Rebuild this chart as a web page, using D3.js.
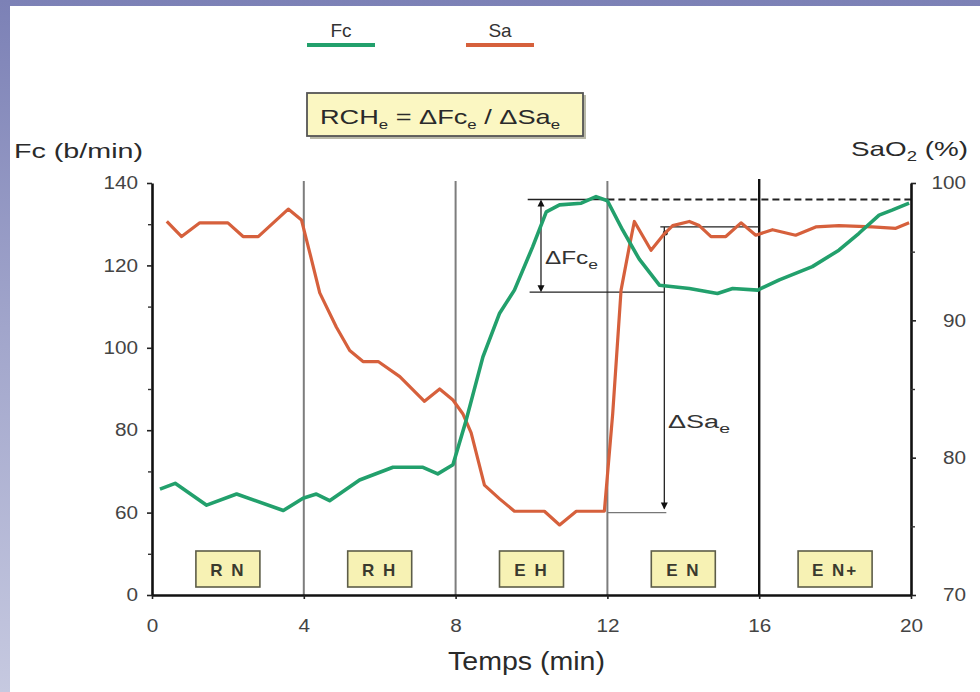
<!DOCTYPE html>
<html><head><meta charset="utf-8">
<script src="https://cdn.jsdelivr.net/npm/d3@7/dist/d3.min.js"></script>
<style>
html,body{margin:0;padding:0;}
body{width:980px;height:692px;overflow:hidden;background:linear-gradient(180deg,#7c81b6 0%,#a3a7cc 50%,#c6c9e0 100%);}
svg{display:block;font-family:"Liberation Sans",Arial,sans-serif;}
</style></head><body>
<svg id="c" width="980" height="692"></svg>
<script>
// ---------- data ----------
const timeTicks = [0, 4, 8, 12, 16, 20];
const phaseBounds = [4, 8, 12, 16];
const phaseLabels = ["R N", "R H", "E H", "E N", "E N+"];
const phaseMid = [2, 6, 10, 14, 18];
const fcTicks = [40, 60, 80, 100, 120, 140];
const fcTickLabels = ["0", "60", "80", "100", "120", "140"];
const fcMinorTicks = [50, 70, 90, 110, 130];
const saTicks = [70, 80, 90, 100];
const saMinorTicks = [75, 85, 95];

const fcTime = [0.21,0.61,1.44,2.23,3.46,3.98,4.33,4.68,5.47,6.35,7.14,7.53,7.93,8.28,8.72,9.16,9.55,10.03,10.39,10.74,11.31,11.70,12.00,12.40,12.84,13.37,14.16,14.90,15.30,15.96,16.53,17.40,18.10,18.63,19.16,19.50,19.95];
const fcValues = [65.7,67.1,61.8,64.5,60.5,63.5,64.5,62.9,67.9,71.0,71.0,69.4,71.6,82.5,97.8,108.4,114.0,124.5,133.0,134.7,135.1,136.7,135.7,128.6,121.5,115.2,114.4,113.2,114.4,114.0,116.5,119.7,123.7,127.8,132.2,133.4,135.1];

const saTime = [0.39,0.78,1.26,2.00,2.40,2.80,3.59,3.94,4.16,4.42,4.86,5.21,5.56,5.96,6.53,7.18,7.58,7.93,8.19,8.41,8.76,9.16,9.55,10.34,10.74,11.18,11.92,12.14,12.36,12.58,12.71,13.15,13.50,13.72,14.16,14.42,14.73,15.12,15.52,15.91,16.35,16.96,17.49,18.10,18.98,19.60,19.95];
const saValues = [97.2,96.1,97.1,97.1,96.1,96.1,98.1,97.3,94.9,92.0,89.5,87.8,87.0,87.0,85.9,84.1,85.0,84.2,83.2,81.8,78.0,77.0,76.1,76.1,75.1,76.1,76.1,83.2,92.2,95.4,97.2,95.1,96.3,96.9,97.2,96.9,96.1,96.1,97.1,96.2,96.6,96.2,96.8,96.9,96.8,96.7,97.1];

// annotation anchors (data units)
const fcPeakLevel = 136;
const fcPlateauLevel = 113.5;
const dFcTime = 10.25;
const saTopLevel = 96.8;
const saBottomLevel = 76.0;
const dSaTime = 13.5;

// ---------- setup ----------
const svg = d3.select("#c");
const green = "#22a06c", red = "#d6603c";

svg.append("rect").attr("x",10).attr("y",6).attr("width",970).attr("height",686).attr("fill","#fff");

const x = d3.scaleLinear().domain([0,20]).range([152,911]);
const yFc = d3.scaleLinear().domain([40,140]).range([595,183]);
const ySa = d3.scaleLinear().domain([70,100]).range([595,183]);

function stretch(sel, f){ sel.each(function(){ const L=this.getComputedTextLength(); d3.select(this).attr("textLength",L*f).attr("lengthAdjust","spacingAndGlyphs"); }); }
function fitTo(sel, w){ sel.attr("textLength",w).attr("lengthAdjust","spacingAndGlyphs"); }

// phase lines
svg.append("g").selectAll("line").data(phaseBounds).join("line")
  .attr("x1",d=>x(d)).attr("x2",d=>x(d))
  .attr("y1",d=>d===16?yFc(141):yFc(140.5)).attr("y2",yFc(40))
  .attr("stroke",d=>d===16?"#111":"#7d7d7d").attr("stroke-width",d=>d===16?2.4:2);

// phase label boxes
const pb = svg.append("g").selectAll("g").data(phaseMid).join("g");
pb.append("rect").attr("x",(d,i)=>x(d)-(i===4?37:32)).attr("y",551).attr("width",(d,i)=>i===4?74:64).attr("height",36)
  .attr("fill","#f7f2b4").attr("stroke","#5d5d48").attr("stroke-width",1.6);
pb.append("text").attr("x",d=>x(d)).attr("y",576).attr("text-anchor","middle")
  .attr("font-size",17).attr("font-weight","bold").attr("fill","#3a3a2e").attr("letter-spacing","2")
  .text((d,i)=>phaseLabels[i]);

// annotations
const ann = svg.append("g").attr("stroke","#222").attr("stroke-width",1.3).attr("fill","none");
ann.append("line").attr("x1",x(9.9)).attr("x2",x(12)).attr("y1",yFc(fcPeakLevel)).attr("y2",yFc(fcPeakLevel));
ann.append("line").attr("x1",x(12)).attr("x2",x(20)).attr("y1",yFc(fcPeakLevel)).attr("y2",yFc(fcPeakLevel))
  .attr("stroke-dasharray","7,4").attr("stroke-width",2.2);
ann.append("line").attr("x1",x(9.95)).attr("x2",x(dSaTime)).attr("y1",yFc(fcPlateauLevel)).attr("y2",yFc(fcPlateauLevel));
ann.append("line").attr("x1",x(dFcTime)).attr("x2",x(dFcTime)).attr("y1",yFc(fcPeakLevel)+4).attr("y2",yFc(fcPlateauLevel)-4);
ann.append("line").attr("x1",x(dSaTime)-4).attr("x2",x(16)).attr("y1",ySa(saTopLevel)).attr("y2",ySa(saTopLevel));
ann.append("line").attr("x1",x(dSaTime)).attr("x2",x(dSaTime)).attr("y1",ySa(saTopLevel)).attr("y2",ySa(saBottomLevel)-4);
ann.append("line").attr("x1",x(12)).attr("x2",x(dSaTime)+2).attr("y1",ySa(saBottomLevel)).attr("y2",ySa(saBottomLevel)).attr("stroke","#777");
function arrow(px,py,dir){ // dir -1 up, 1 down
  svg.append("path").attr("d",`M${px-3.5},${py-dir*7}L${px+3.5},${py-dir*7}L${px},${py}Z`).attr("fill","#111");
}
arrow(x(dFcTime), yFc(fcPeakLevel), -1);
arrow(x(dFcTime), yFc(fcPlateauLevel), 1);
arrow(x(dSaTime), ySa(saBottomLevel)-3, 1);
svg.append("circle").attr("cx",x(dSaTime)+1).attr("cy",ySa(saTopLevel)+6).attr("r",2.5).attr("fill","#222");

// lines
const lineFc = d3.line().x((d,i)=>x(fcTime[i])).y(d=>yFc(d));
const lineSa = d3.line().x((d,i)=>x(saTime[i])).y(d=>ySa(d));
svg.append("path").attr("d",lineSa(saValues)).attr("fill","none").attr("stroke",red).attr("stroke-width",3.2).attr("stroke-linejoin","round");
svg.append("path").attr("d",lineFc(fcValues)).attr("fill","none").attr("stroke",green).attr("stroke-width",3.6).attr("stroke-linejoin","round");

// axes
function styleAxis(g){ g.select(".domain").attr("stroke","#111").attr("stroke-width",2.6); g.selectAll(".tick line").attr("stroke","#222").attr("stroke-width",1.6); g.selectAll("text").attr("fill","#444").attr("font-size",18).attr("font-family","Liberation Sans, Arial, sans-serif"); }
const gl = svg.append("g").attr("transform",`translate(${x(0)},0)`)
  .call(d3.axisLeft(yFc).tickValues(fcTicks).tickSize(5).tickSizeOuter(0).tickPadding(9).tickFormat((d,i)=>fcTickLabels[i]));
styleAxis(gl);
svg.append("g").attr("transform",`translate(${x(0)},0)`)
  .call(d3.axisLeft(yFc).tickValues(fcMinorTicks).tickSize(4).tickFormat(""))
  .call(g=>{g.select(".domain").remove(); g.selectAll("line").attr("stroke","#333").attr("stroke-width",1.4);});
const gr = svg.append("g").attr("transform",`translate(${x(20)},0)`)
  .call(d3.axisRight(ySa).tickValues(saTicks).tickSize(5).tickSizeOuter(0).tickPadding(14));
styleAxis(gr);
gr.selectAll(".tick text").attr("text-anchor","end").attr("x",55);
svg.append("g").attr("transform",`translate(${x(20)},0)`)
  .call(d3.axisRight(ySa).tickValues(saMinorTicks).tickSize(4).tickFormat(""))
  .call(g=>{g.select(".domain").remove(); g.selectAll("line").attr("stroke","#333").attr("stroke-width",1.4);});
const gb = svg.append("g").attr("transform",`translate(0,${yFc(40)})`)
  .call(d3.axisBottom(x).tickValues(timeTicks).tickSize(4).tickSizeOuter(0).tickPadding(20));
styleAxis(gb);
stretch(gl.selectAll(".tick text"),1.15);
stretch(gr.selectAll(".tick text"),1.15);
stretch(gb.selectAll(".tick text"),1.15);

// titles
const t1 = svg.append("text").attr("x",14).attr("y",158).attr("font-size",21).attr("fill","#2a2a2a").text("Fc (b/min)");
fitTo(t1,129);
const t2 = svg.append("text").attr("x",851).attr("y",156).attr("font-size",21).attr("fill","#2a2a2a");
t2.append("tspan").text("SaO");
t2.append("tspan").attr("font-size",14).attr("dy",5).text("2");
t2.append("tspan").attr("dy",-5).text(" (%)");
fitTo(t2,117);
const t3 = svg.append("text").attr("x",448).attr("y",670).attr("font-size",25).attr("fill","#2a2a2a").text("Temps (min)");
fitTo(t3,157);

// delta labels
function subLabel(px,py,main,sub,fs,w){
  const t = svg.append("text").attr("x",px).attr("y",py).attr("font-size",fs).attr("fill","#333");
  t.append("tspan").text(main);
  t.append("tspan").attr("font-size",fs*0.72).attr("dy",fs*0.3).text(sub);
  fitTo(t,w);
  return t;
}
subLabel(545,264,"\u0394Fc","e",18,53);
subLabel(668,428,"\u0394Sa","e",18,62);

// legend
const legend = [{n:"Fc",c:green,cx:341},{n:"Sa",c:red,cx:500}];
const lg = svg.append("g").selectAll("g").data(legend).join("g");
lg.append("text").attr("x",d=>d.cx).attr("y",37).attr("text-anchor","middle").attr("font-size",19).attr("fill","#333").text(d=>d.n);
lg.append("line").attr("x1",d=>d.cx-34).attr("x2",d=>d.cx+34).attr("y1",45).attr("y2",45).attr("stroke",d=>d.c).attr("stroke-width",4);

// formula box
svg.append("rect").attr("x",310).attr("y",95).attr("width",276).attr("height",44).attr("fill","#b9b9a8");
svg.append("rect").attr("x",307).attr("y",93).attr("width",276).attr("height",43).attr("fill","#fbf7c2").attr("stroke","#555").attr("stroke-width",1.8);
const f = svg.append("text").attr("x",320).attr("y",124).attr("font-size",21).attr("fill","#2a2a2a");
f.append("tspan").text("RCH");
f.append("tspan").attr("font-size",13).attr("dy",5).text("e");
f.append("tspan").attr("dy",-5).text(" = \u0394Fc");
f.append("tspan").attr("font-size",13).attr("dy",5).text("e");
f.append("tspan").attr("dy",-5).text(" / \u0394Sa");
f.append("tspan").attr("font-size",13).attr("dy",5).text("e");
fitTo(f,240);
</script>
</body></html>
